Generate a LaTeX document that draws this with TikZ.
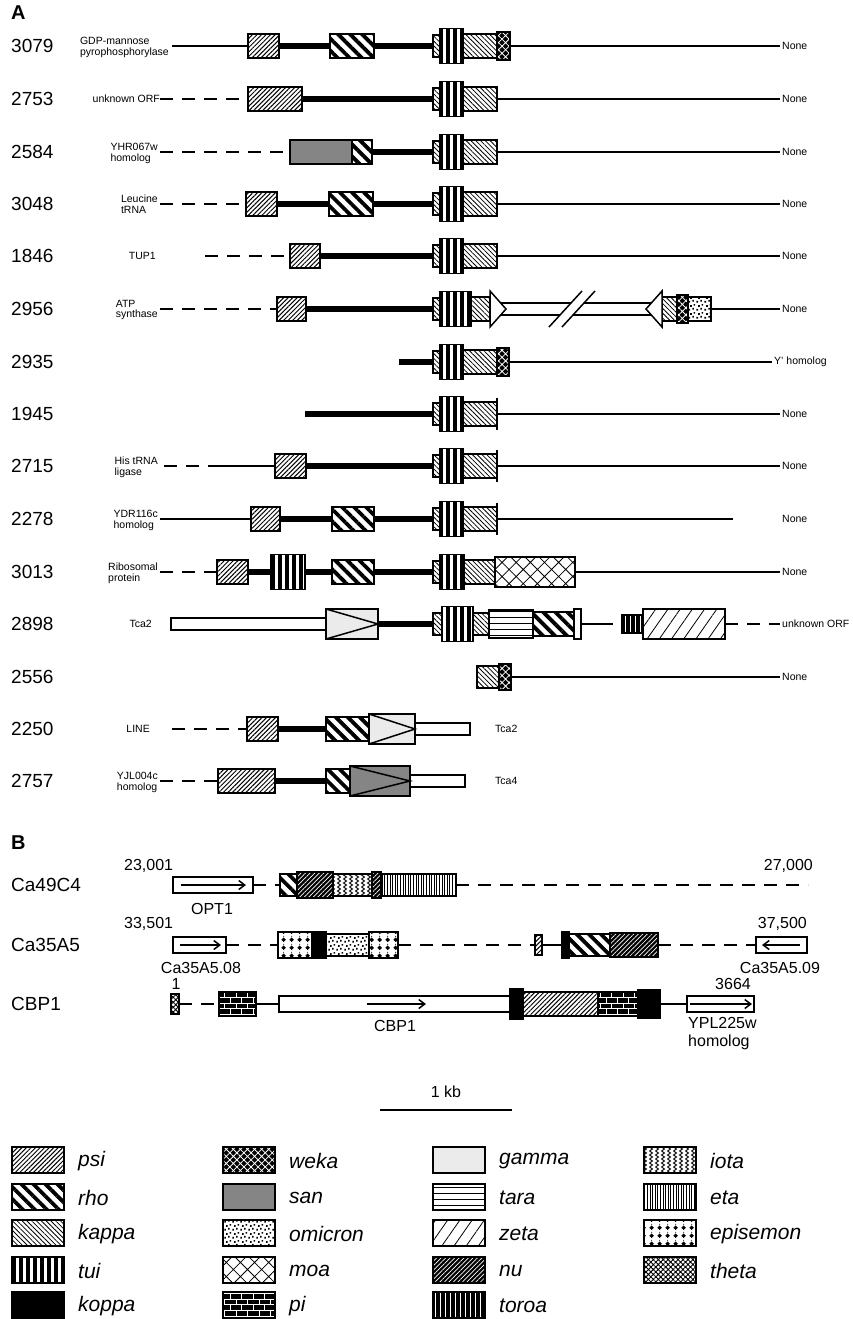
\documentclass[tikz,border=0pt]{standalone}
\usepackage{fontspec}
\setmainfont{Liberation Sans}
\usetikzlibrary{patterns, patterns.meta, arrows.meta}

% hand made fills
\pgfdeclarepatternformonly{iotawave}{\pgfqpoint{-1pt}{-1pt}}{\pgfqpoint{7pt}{9pt}}{\pgfqpoint{6pt}{8pt}}{%
  \pgfsetlinewidth{0.9pt}
  \pgfpathmoveto{\pgfqpoint{1.5pt}{0pt}}
  \pgfpathlineto{\pgfqpoint{4.5pt}{2pt}}
  \pgfpathlineto{\pgfqpoint{1.5pt}{4pt}}
  \pgfpathlineto{\pgfqpoint{4.5pt}{6pt}}
  \pgfpathlineto{\pgfqpoint{1.5pt}{8pt}}
  \pgfusepath{stroke}}
\pgfdeclarepatternformonly{episemondia}{\pgfqpoint{0pt}{0pt}}{\pgfqpoint{8pt}{8pt}}{\pgfqpoint{8pt}{8pt}}{%
  \pgfpathmoveto{\pgfqpoint{4pt}{1pt}}
  \pgfpathlineto{\pgfqpoint{6.5pt}{3.5pt}}
  \pgfpathlineto{\pgfqpoint{4pt}{6pt}}
  \pgfpathlineto{\pgfqpoint{1.5pt}{3.5pt}}
  \pgfpathclose
  \pgfpathcircle{\pgfqpoint{4pt}{7.3pt}}{0.6pt}
  \pgfusepath{fill}}
\pgfdeclarepatternformonly{omicrondots}{\pgfqpoint{0pt}{0pt}}{\pgfqpoint{8pt}{8pt}}{\pgfqpoint{8pt}{8pt}}{%
  \pgfpathrectangle{\pgfqpoint{0.5pt}{0.5pt}}{\pgfqpoint{1.7pt}{1.7pt}}
  \pgfpathrectangle{\pgfqpoint{4.6pt}{1.6pt}}{\pgfqpoint{1.7pt}{1.7pt}}
  \pgfpathrectangle{\pgfqpoint{2.4pt}{4.6pt}}{\pgfqpoint{1.7pt}{1.7pt}}
  \pgfpathrectangle{\pgfqpoint{6.1pt}{5.8pt}}{\pgfqpoint{1.7pt}{1.7pt}}
  \pgfusepath{fill}}

% box from x1 to x2 on row y
\newcommand{\gseg}[5]{\node[#1, anchor=west, minimum width={#4-#3}] (#2) at (#3,#5) {};}

\begin{document}
\begin{tikzpicture}[x=1pt, y=-1pt,
  gbox/.style={rectangle, draw, line width=1.6pt, inner sep=0pt, outer sep=0pt, minimum height=24pt},
  psi/.style={gbox, pattern={Lines[angle=45,distance=3.2pt,line width=1pt]}},
  rho/.style={gbox, pattern={Lines[angle=-45,distance=8.5pt,line width=3.8pt]}},
  kappa/.style={gbox, pattern={Lines[angle=-45,distance=3.4pt,line width=0.8pt]}},
  stub/.style={kappa, minimum height=22pt},
  tui/.style={gbox, minimum height=35pt, pattern={Lines[angle=90,distance=7pt,line width=3.4pt]}},
  koppa/.style={gbox, fill=black},
  weka/.style={gbox, preaction={fill=black}, pattern color=white, pattern={Hatch[angle=45,distance=5pt,line width=0.8pt]}},
  san/.style={gbox, preaction={fill=black!45}, pattern color=black!75, pattern={Dots[distance=2pt,radius=0.45pt]}},
  omicron/.style={gbox, pattern=omicrondots},
  moa/.style={gbox, pattern={Hatch[angle=45,distance=10pt,line width=0.8pt]}},
  pi/.style={gbox, preaction={fill=black}, pattern color=white, pattern=bricks},
  gamma/.style={gbox, fill=black!8},
  tara/.style={gbox, pattern={Lines[angle=0,distance=6pt,line width=0.9pt]}},
  zeta/.style={gbox, pattern={Lines[angle=55,distance=10pt,line width=0.8pt]}},
  nu/.style={gbox, preaction={fill=black}, pattern color=white, pattern={Lines[angle=45,distance=3.2pt,line width=0.7pt]}},
  toroa/.style={gbox, preaction={fill=black}, pattern color=white, pattern={Lines[angle=90,distance=5pt,line width=0.8pt]}},
  iota/.style={gbox, pattern=iotawave},
  eta/.style={gbox, pattern={Lines[angle=90,distance=2.6pt,line width=1pt]}},
  episemon/.style={gbox, pattern=episemondia},
  theta/.style={gbox, pattern={Hatch[angle=45,distance=3.5pt,line width=0.9pt]}},
  bar/.style={gbox, fill=white, minimum height=12pt},
  orf/.style={gbox, fill=white, minimum height=16pt},
  thickln/.style={line width=5.5pt},
  thinln/.style={line width=1.9pt},
  midln/.style={line width=2.6pt},
  dashln/.style={line width=2.8pt, dash pattern=on 13pt off 9pt},
  tick/.style={line width=1.5pt},
  tri/.style={line width=1.5pt},
  garrow/.style={-{Straight Barb[length=6pt,width=9pt]}, line width=1.5pt},
  num/.style={font=\fontsize{19}{21}\selectfont, anchor=west, inner sep=0pt},
  panel/.style={font=\fontsize{20}{22}\selectfont\bfseries, anchor=west, inner sep=0pt},
  lbl/.style={font=\fontsize{10.5}{10.5}\selectfont, align=left, inner sep=0pt},
  endlbl/.style={font=\fontsize{10.5}{10.5}\selectfont, anchor=west, inner sep=2pt},
  blbl/.style={font=\fontsize{16}{18}\selectfont, inner sep=0pt},
  key/.style={font=\fontsize{21}{23}\selectfont\itshape, anchor=west, inner sep=0pt}
]
\useasboundingbox (0,0) rectangle (852,1319);

\node[panel] (pA) at (11,13) {A};

% 3079
\node[num] (n3079) at (11,46) {3079};
\node[lbl, anchor=north east] (l3079) at (169,37) {GDP-mannose\\pyrophosphorylase};
\coordinate (s3079) at (172,46);
\gseg{psi}{psi3079}{248}{279}{46}
\gseg{rho}{rho3079}{330}{374}{46}
\gseg{stub}{stb3079}{433}{440}{46}
\gseg{tui}{tui3079}{440}{463}{46}
\gseg{kappa}{kap3079}{463}{497}{46}
\gseg{weka, minimum height=28pt}{wek3079}{497}{510}{46}
\node[endlbl] (x3079) at (780,46) {None};
\draw[midln] (s3079) -- (psi3079);
\draw[thickln] (psi3079) -- (rho3079);
\draw[thickln] (rho3079) -- (stb3079);
\draw[thinln] (wek3079) -- (x3079);

% 2753
\node[num] (n2753) at (11,99) {2753};
\node[lbl, anchor=east] (l2753) at (160,99) {unknown ORF};
\gseg{psi}{psi2753}{248}{302}{99}
\gseg{stub}{stb2753}{433}{440}{99}
\gseg{tui}{tui2753}{440}{463}{99}
\gseg{kappa}{kap2753}{463}{497}{99}
\node[endlbl] (x2753) at (780,99) {None};
\draw[dashln] (l2753) -- (psi2753);
\draw[thickln] (psi2753) -- (stb2753);
\draw[thinln] (kap2753) -- (x2753);

% 2584
\node[num] (n2584) at (11,152) {2584};
\node[lbl, anchor=north east] (l2584) at (158,143) {YHR067w\\homolog};
\coordinate (s2584) at (160,152);
\gseg{san}{san2584}{290}{352}{152}
\gseg{rho}{rho2584}{352}{372}{152}
\gseg{stub}{stb2584}{433}{440}{152}
\gseg{tui}{tui2584}{440}{463}{152}
\gseg{kappa}{kap2584}{463}{497}{152}
\node[endlbl] (x2584) at (780,152) {None};
\draw[dashln] (s2584) -- (san2584);
\draw[thickln] (rho2584) -- (stb2584);
\draw[thinln] (kap2584) -- (x2584);

% 3048
\node[num] (n3048) at (11,204) {3048};
\node[lbl, anchor=north east] (l3048) at (158,195) {Leucine\\tRNA};
\coordinate (s3048) at (160,204);
\gseg{psi}{psi3048}{246}{277}{204}
\gseg{rho}{rho3048}{329}{373}{204}
\gseg{stub}{stb3048}{433}{440}{204}
\gseg{tui}{tui3048}{440}{463}{204}
\gseg{kappa}{kap3048}{463}{497}{204}
\node[endlbl] (x3048) at (780,204) {None};
\draw[dashln] (s3048) -- (psi3048);
\draw[thickln] (psi3048) -- (rho3048);
\draw[thickln] (rho3048) -- (stb3048);
\draw[thinln] (kap3048) -- (x3048);

% 1846
\node[num] (n1846) at (11,256) {1846};
\node[lbl, anchor=east] (l1846) at (156,256) {TUP1};
\coordinate (s1846) at (205,256);
\gseg{psi}{psi1846}{290}{320}{256}
\gseg{stub}{stb1846}{433}{440}{256}
\gseg{tui}{tui1846}{440}{463}{256}
\gseg{kappa}{kap1846}{463}{497}{256}
\node[endlbl] (x1846) at (780,256) {None};
\draw[dashln] (s1846) -- (psi1846);
\draw[thickln] (psi1846) -- (stb1846);
\draw[thinln] (kap1846) -- (x1846);

% 2956
\node[num] (n2956) at (11,309) {2956};
\node[lbl, anchor=north east] (l2956) at (158,300) {ATP\\synthase};
\coordinate (s2956) at (160,309);
\gseg{psi}{psi2956}{277}{306}{309}
\gseg{stub}{stb2956}{433}{440}{309}
\gseg{tui}{tui2956}{440}{471}{309}
\gseg{kappa}{kap2956}{471}{490}{309}
\gseg{bar}{bar2956}{497}{655}{309}
\gseg{kappa}{kbb2956}{662}{677}{309}
\gseg{weka, minimum height=28pt}{wek2956}{677}{688}{309}
\gseg{omicron}{omi2956}{688}{711}{309}
\node[endlbl] (x2956) at (780,309) {None};
\draw[dashln] (s2956) -- (psi2956);
\draw[thickln] (psi2956) -- (stb2956);
\draw[thinln] (omi2956) -- (x2956);
\draw[tri, fill=white] (490,291) -- (506,309) -- (490,327) -- cycle;
\draw[tri, fill=white] (662,291) -- (646,309) -- (662,327) -- cycle;
\fill[white] (549,327) -- (582,291) -- (595,291) -- (562,327) -- cycle;
\draw[tri] (549,327) -- (582,291) (562,327) -- (595,291);

% 2935
\node[num] (n2935) at (11,362) {2935};
\coordinate (s2935) at (399,362);
\gseg{stub}{stb2935}{433}{440}{362}
\gseg{tui}{tui2935}{440}{463}{362}
\gseg{kappa}{kap2935}{463}{497}{362}
\gseg{weka, minimum height=28pt}{wek2935}{497}{509}{362}
\node[endlbl] (x2935) at (772,362) {Y' homolog};
\draw[thickln] (s2935) -- (stb2935);
\draw[thinln] (wek2935) -- (x2935);

% 1945
\node[num] (n1945) at (11,414) {1945};
\coordinate (s1945) at (305,414);
\gseg{stub}{stb1945}{433}{440}{414}
\gseg{tui}{tui1945}{440}{463}{414}
\gseg{kappa}{kap1945}{463}{497}{414}
\node[endlbl] (x1945) at (780,414) {None};
\draw[thickln] (s1945) -- (stb1945);
\draw[thinln] (kap1945) -- (x1945);
\draw[tick] ([yshift=16pt]kap1945.east) -- ([yshift=-16pt]kap1945.east);

% 2715
\node[num] (n2715) at (11,466) {2715};
\node[lbl, anchor=north east] (l2715) at (158,457) {His tRNA\\ligase};
\coordinate (s2715) at (164,466);
\coordinate (c2715) at (217,466);
\gseg{psi}{psi2715}{275}{306}{466}
\gseg{stub}{stb2715}{433}{440}{466}
\gseg{tui}{tui2715}{440}{463}{466}
\gseg{kappa}{kap2715}{463}{497}{466}
\node[endlbl] (x2715) at (780,466) {None};
\draw[dashln] (s2715) -- (c2715);
\draw[thinln] (c2715) -- (psi2715);
\draw[thickln] (psi2715) -- (stb2715);
\draw[thinln] (kap2715) -- (x2715);
\draw[tick] ([yshift=16pt]kap2715.east) -- ([yshift=-16pt]kap2715.east);

% 2278
\node[num] (n2278) at (11,519) {2278};
\node[lbl, anchor=north east] (l2278) at (158,510) {YDR116c\\homolog};
\coordinate (s2278) at (160,519);
\gseg{psi}{psi2278}{251}{280}{519}
\gseg{rho}{rho2278}{332}{374}{519}
\gseg{stub}{stb2278}{433}{440}{519}
\gseg{tui}{tui2278}{440}{463}{519}
\gseg{kappa}{kap2278}{463}{497}{519}
\coordinate (e2278) at (733,519);
\node[endlbl] (x2278) at (780,519) {None};
\draw[thinln] (s2278) -- (psi2278);
\draw[thickln] (psi2278) -- (rho2278);
\draw[thickln] (rho2278) -- (stb2278);
\draw[thinln] (kap2278) -- (e2278);
\draw[tick] ([yshift=16pt]kap2278.east) -- ([yshift=-16pt]kap2278.east);

% 3013
\node[num] (n3013) at (11,572) {3013};
\node[lbl, anchor=north east] (l3013) at (158,563) {Ribosomal\\protein};
\coordinate (s3013) at (160,572);
\gseg{psi}{psi3013}{217}{248}{572}
\gseg{tui}{tua3013}{271}{305}{572}
\gseg{rho}{rho3013}{332}{374}{572}
\gseg{stub}{stb3013}{433}{440}{572}
\gseg{tui}{tui3013}{440}{464}{572}
\gseg{kappa}{kap3013}{464}{495}{572}
\gseg{moa, minimum height=30pt}{moa3013}{495}{575}{572}
\node[endlbl] (x3013) at (780,572) {None};
\draw[dashln] (s3013) -- (psi3013);
\draw[thickln] (psi3013) -- (tua3013);
\draw[thickln] (tua3013) -- (rho3013);
\draw[thickln] (rho3013) -- (stb3013);
\draw[thinln] (moa3013) -- (x3013);

% 2898
\node[num] (n2898) at (11,624) {2898};
\node[lbl, anchor=east] (l2898) at (152,624) {Tca2};
\gseg{bar}{bar2898}{171}{326}{624}
\gseg{gamma, minimum height=30pt}{gam2898}{326}{378}{624}
\gseg{stub}{stb2898}{433}{442}{624}
\gseg{tui}{tui2898}{442}{473}{624}
\gseg{kappa, minimum height=22pt}{kap2898}{473}{489}{624}
\gseg{tara, minimum height=28pt}{tar2898}{489}{533}{624}
\gseg{rho}{rho2898}{533}{574}{624}
\gseg{gbox, fill=white, minimum height=30pt}{end2898}{574}{581}{624}
\coordinate (c2898) at (600,624);
\gseg{toroa, minimum height=18pt}{tor2898}{622}{643}{624}
\gseg{zeta, minimum height=30pt}{zet2898}{643}{725}{624}
\node[endlbl] (x2898) at (780,624) {unknown ORF};
\draw[tri] (gam2898.north west) -- (gam2898.east) -- (gam2898.south west);
\draw[thickln] (gam2898) -- (stb2898);
\draw[thinln] (end2898) -- (c2898);
\draw[dashln] (c2898) -- (tor2898);
\draw[dashln] (zet2898) -- (x2898);

% 2556
\node[num] (n2556) at (11,677) {2556};
\gseg{kappa, minimum height=22pt}{kap2556}{477}{499}{677}
\gseg{weka, minimum height=26pt}{wek2556}{499}{511}{677}
\node[endlbl] (x2556) at (780,677) {None};
\draw[thinln] (wek2556) -- (x2556);

% 2250
\node[num] (n2250) at (11,729) {2250};
\node[lbl, anchor=east] (l2250) at (150,729) {LINE};
\coordinate (s2250) at (172,729);
\gseg{psi}{psi2250}{247}{278}{729}
\gseg{rho}{rho2250}{326}{369}{729}
\gseg{gamma, minimum height=30pt}{gam2250}{369}{415}{729}
\gseg{bar}{bar2250}{415}{470}{729}
\node[endlbl] (x2250) at (493,729) {Tca2};
\draw[tri] (gam2250.north west) -- (gam2250.east) -- (gam2250.south west);
\draw[dashln] (s2250) -- (psi2250);
\draw[thickln] (psi2250) -- (rho2250);

% 2757
\node[num] (n2757) at (11,781) {2757};
\node[lbl, anchor=north east] (l2757) at (158,772) {YJL004c\\homolog};
\coordinate (s2757) at (160,781);
\gseg{psi}{psi2757}{218}{275}{781}
\gseg{rho}{rho2757}{326}{350}{781}
\gseg{san, minimum height=30pt}{san2757}{350}{410}{781}
\gseg{bar}{bar2757}{410}{465}{781}
\node[endlbl] (x2757) at (493,781) {Tca4};
\draw[tri] (san2757.north west) -- (san2757.east) -- (san2757.south west);
\draw[dashln] (s2757) -- (psi2757);
\draw[thickln] (psi2757) -- (rho2757);

\node[panel] (pB) at (11,843) {B};

% Ca49C4
\node[num] (nC49) at (11,885) {Ca49C4};
\node[blbl, anchor=west] (a23001) at (124,866) {23,001};
\node[blbl, anchor=east] (a27000) at (813,866) {27,000};
\gseg{orf}{opt1}{173}{253}{885}
\coordinate (o1a) at (181,885);
\coordinate (o1b) at (246,885);
\draw[garrow] (o1a) -- (o1b);
\node[blbl] (topt1) at (212,909) {OPT1};
\gseg{rho, minimum height=22pt}{rhoC49}{280}{297}{885}
\gseg{nu, minimum height=26pt}{nuaC49}{297}{333}{885}
\gseg{iota, minimum height=22pt}{iotC49}{333}{372}{885}
\gseg{nu, minimum height=26pt}{nubC49}{372}{381}{885}
\gseg{eta, minimum height=22pt}{etaC49}{381}{456}{885}
\coordinate (eC49) at (808,885);
\draw[dashln] (opt1) -- (rhoC49);
\draw[dashln] (etaC49) -- (eC49);

% Ca35A5
\node[num] (nC35) at (11,945) {Ca35A5};
\node[blbl, anchor=west] (a33501) at (124,924) {33,501};
\node[blbl, anchor=east] (a37500) at (807,924) {37,500};
\gseg{orf}{orf08}{173}{226}{945}
\coordinate (o8a) at (180,945);
\coordinate (o8b) at (221,945);
\draw[garrow] (o8a) -- (o8b);
\node[blbl] (t08) at (201,968) {Ca35A5.08};
\gseg{episemon, minimum height=26pt}{epaC35}{278}{312}{945}
\gseg{koppa, minimum height=26pt}{kopC35}{312}{326}{945}
\gseg{omicron, minimum height=22pt}{omiC35}{326}{369}{945}
\gseg{episemon, minimum height=26pt}{epbC35}{369}{398}{945}
\gseg{psi, minimum height=20pt}{psiC35}{535}{542}{945}
\gseg{koppa, minimum height=26pt}{kpbC35}{562}{569}{945}
\gseg{rho, minimum height=22pt}{rhoC35}{569}{610}{945}
\gseg{nu}{nuC35}{610}{658}{945}
\gseg{orf}{orf09}{756}{807}{945}
\coordinate (o9a) at (800,945);
\coordinate (o9b) at (762,945);
\draw[garrow] (o9a) -- (o9b);
\node[blbl] (t09) at (780,968) {Ca35A5.09};
\draw[dashln] (orf08) -- (epaC35);
\draw[dashln] (epbC35) -- (psiC35);
\draw[thinln] (psiC35) -- (kpbC35);
\draw[dashln] (nuC35) -- (orf09);

% CBP1
\node[num] (nCBP) at (11,1004) {CBP1};
\node[blbl] (a1) at (176,984) {1};
\node[blbl] (a3664) at (733,984) {3664};
\gseg{theta, minimum height=20pt}{theCB}{171}{179}{1004}
\gseg{pi}{piaCB}{219}{256}{1004}
\gseg{orf}{cbp1}{279}{510}{1004}
\coordinate (cba) at (367,1004);
\coordinate (cbb) at (426,1004);
\draw[garrow] (cba) -- (cbb);
\node[blbl] (tcbp1) at (395,1026) {CBP1};
\gseg{koppa, minimum height=30pt}{kpaCB}{510}{523}{1004}
\gseg{psi}{psiCB}{523}{598}{1004}
\gseg{pi}{pibCB}{598}{638}{1004}
\gseg{koppa, minimum height=28pt}{kpbCB}{638}{660}{1004}
\gseg{orf}{ypl}{687}{754}{1004}
\coordinate (ypa) at (690,1004);
\coordinate (ypb) at (752,1004);
\draw[garrow] (ypa) -- (ypb);
\node[blbl, align=left, anchor=north west] (typl) at (688,1017) {YPL225w\\homolog};
\draw[dashln] (theCB) -- (piaCB);
\draw[thinln] (piaCB) -- (cbp1);
\draw[thinln] (kpbCB) -- (ypl);

% scale bar
\coordinate (kbl) at (380,1110);
\coordinate (kbr) at (512,1110);
\draw[line width=1.6pt] (kbl) -- (kbr);
\node[blbl] (kb) at (446,1092) {1 kb};

% key
\foreach \st/\x/\y in {psi/12/1160, rho/12/1197, kappa/12/1233, tui/12/1270, koppa/12/1305,
    weka/223/1160, san/223/1197, omicron/223/1233, moa/223/1270, pi/223/1305,
    gamma/433/1160, tara/433/1197, zeta/433/1233, nu/433/1270, toroa/433/1305,
    iota/644/1160, eta/644/1197, episemon/644/1233, theta/644/1270} {
  \node[\st, minimum width=52pt, minimum height=26pt, anchor=west] (k-\st) at (\x,\y) {};
  \node[key] (t-\st) at (\x+66,\y+1) {\st};
}
\end{tikzpicture}
\end{document}
